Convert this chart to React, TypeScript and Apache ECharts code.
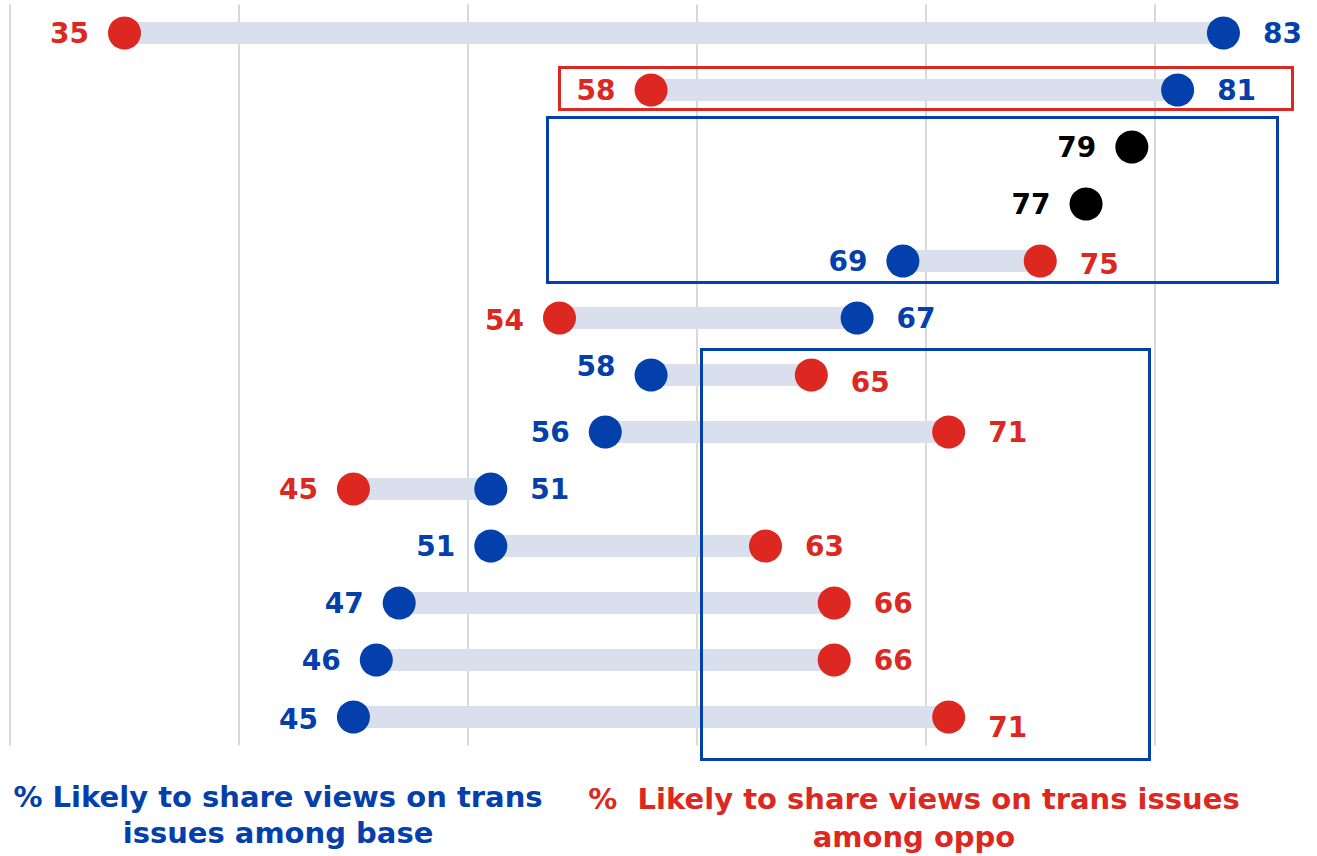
import React, { useEffect, useRef } from "react";
import * as echarts from "echarts";

const rows = ["r1", "r2", "r3", "r4", "r5", "r6", "r7", "r8", "r9", "r10", "r11", "r12", "r13"];
const baseValues: (number | null)[] = [83, 81, null, null, 69, 67, 58, 56, 51, 51, 47, 46, 45];
const oppoValues: (number | null)[] = [35, 58, null, null, 75, 54, 65, 71, 45, 63, 66, 66, 71];
const overallValues: (number | null)[] = [null, null, 79, 77, null, null, null, null, null, null, null, null, null];
const xTicks = [30, 40, 50, 60, 70, 80];
const xMax = 87;
const baseTitleLines = ["% Likely to share views on trans", "issues among base"];
const oppoTitleLines = ["%  Likely to share views on trans issues", "among oppo"];

const RED = "#dc2820";
const BLUE = "#0340ab";
const BAR = "#d9dfec";
const FONT = "'DejaVu Sans', sans-serif";

// small per-label vertical nudges seen in the reference
const baseLabelDy = [0, 0, 0, 0, 0, 0, -9, 0, 0, 0, 0, 0, 2];
const oppoLabelDy = [0, 0, 0, 0, 3, 2, 7, 0, 0, 0, 0, 0, 10];

export default function App() {
  const ref = useRef<HTMLDivElement>(null);
  useEffect(() => {
    const chart = echarts.init(ref.current!, undefined, { renderer: "svg" });
    const labelBase = { show: true, fontFamily: FONT, fontWeight: "bold" as const, fontSize: 28 };

    const mkPoints = (vals: (number | null)[], other: (number | null)[] | null, color: string, dys: number[] | null) =>
      vals
        .map((v, i) => {
          if (v == null) return null;
          const o = other ? other[i] : null;
          const side = o == null ? "left" : v <= o ? "left" : "right";
          return {
            value: [v, i],
            label: {
              ...labelBase,
              color,
              position: side,
              distance: side === "left" ? 19 : 23,
              offset: [0, dys ? dys[i] : 0],
              formatter: String(v),
            },
          };
        })
        .filter((d) => d != null);

    const barData = rows
      .map((_, i) => {
        const a = baseValues[i];
        const b = oppoValues[i];
        if (a == null || b == null) return null;
        return [i, Math.min(a, b), Math.max(a, b)];
      })
      .filter((d) => d != null);

    const titleText = (text: string, x: number, y: number, color: string) => ({
      type: "text",
      z: 10,
      x,
      y,
      style: {
        text,
        fill: color,
        font: `bold 29px ${FONT}`,
        align: "center",
        verticalAlign: "middle",
      },
    });

    chart.setOption({
      animation: false,
      grid: { left: 10, right: 2, top: 4.5, height: 741, containLabel: false },
      xAxis: {
        type: "value",
        min: xTicks[0],
        max: xMax,
        interval: xTicks[1] - xTicks[0],
        axisLabel: { show: false },
        axisLine: { show: false },
        axisTick: { show: false },
        splitLine: { show: false },
      },
      yAxis: {
        type: "category",
        data: rows,
        inverse: true,
        axisLabel: { show: false },
        axisLine: { show: false },
        axisTick: { show: false },
        splitLine: { show: false },
      },
      series: [
        {
          type: "custom",
          data: barData,
          encode: { x: [1, 2], y: 0 },
          z: 1,
          renderItem: (params: any, api: any) => {
            const i = api.value(0);
            const p1 = api.coord([api.value(1), i]);
            const p2 = api.coord([api.value(2), i]);
            return {
              type: "rect",
              shape: { x: p1[0], y: p1[1] - 11, width: p2[0] - p1[0], height: 22 },
              style: { fill: BAR },
            };
          },
          markLine: {
            silent: true,
            symbol: "none",
            z: 0,
            label: { show: false },
            lineStyle: { color: "#d9d9d9", width: 2, type: "solid" },
            data: xTicks.map((v) => ({ xAxis: v })),
          },
        },
        {
          type: "scatter",
          symbolSize: 33,
          itemStyle: { color: BLUE, opacity: 1 },
          z: 3,
          data: mkPoints(baseValues, oppoValues, BLUE, baseLabelDy),
        },
        {
          type: "scatter",
          symbolSize: 33,
          itemStyle: { color: RED, opacity: 1 },
          z: 3,
          data: mkPoints(oppoValues, baseValues, RED, oppoLabelDy),
        },
        {
          type: "scatter",
          symbolSize: 33,
          itemStyle: { color: "#000000", opacity: 1 },
          z: 3,
          data: mkPoints(overallValues, null, "#000000", null),
        },
      ],
      graphic: [
        {
          type: "rect",
          z: 10,
          shape: { x: 559.5, y: 67.5, width: 733, height: 42 },
          style: { fill: "none", stroke: RED, lineWidth: 3 },
        },
        {
          type: "rect",
          z: 10,
          shape: { x: 547.5, y: 117.5, width: 730, height: 165 },
          style: { fill: "none", stroke: BLUE, lineWidth: 3 },
        },
        {
          type: "rect",
          z: 10,
          shape: { x: 701.5, y: 349.5, width: 448, height: 410 },
          style: { fill: "none", stroke: BLUE, lineWidth: 3 },
        },
        titleText(baseTitleLines[0], 278, 797, BLUE),
        titleText(baseTitleLines[1], 278, 833, BLUE),
        titleText(oppoTitleLines[0], 914, 799, RED),
        titleText(oppoTitleLines[1], 914, 837, RED),
      ],
    });
    return () => chart.dispose();
  }, []);
  return <div ref={ref} style={{ position: "fixed", left: 0, top: 0, width: 1317, height: 856, background: "#fff" }} />;
}
